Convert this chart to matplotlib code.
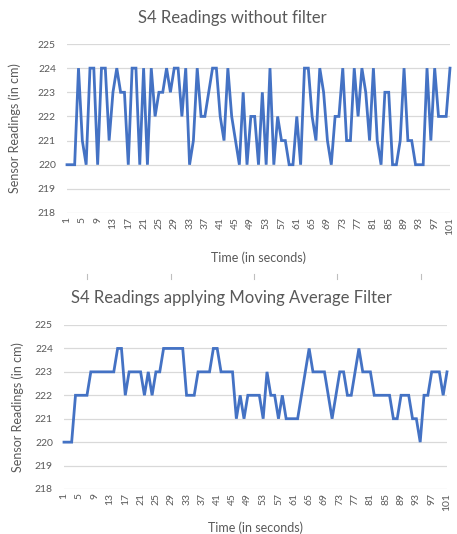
import numpy as np
import matplotlib
matplotlib.use("Agg")
import matplotlib.pyplot as plt
from matplotlib.lines import Line2D

# data
time_s = list(range(1, 102))
raw = [220, 220, 220, 224, 221, 220, 224, 224, 220, 224,
       224, 221, 223, 224, 223, 223, 220, 224, 224, 220,
       224, 220, 224, 222, 223, 223, 224, 223, 224, 224,
       222, 224, 220, 221, 224, 222, 222, 223, 224, 224,
       222, 221, 224, 222, 221, 220, 223, 220, 222, 222,
       220, 223, 220, 224, 220, 222, 221, 221, 220, 220,
       222, 220, 224, 224, 222, 221, 224, 223, 221, 220,
       222, 222, 224, 221, 221, 224, 222, 224, 223, 221,
       224, 221, 220, 223, 223, 220, 220, 221, 224, 221,
       221, 220, 220, 220, 224, 221, 224, 222, 222, 222, 224]
filtered = [220, 220, 220, 222, 222, 222, 222, 223, 223, 223,
            223, 223, 223, 223, 224, 224, 222, 223, 223, 223,
            223, 222, 223, 222, 223, 223, 224, 224, 224, 224,
            224, 224, 222, 222, 222, 223, 223, 223, 223, 224,
            224, 223, 223, 223, 223, 221, 222, 221, 222, 222,
            222, 222, 221, 223, 222, 222, 221, 222, 221, 221,
            221, 221, 222, 223, 224, 223, 223, 223, 223, 222,
            221, 222, 223, 223, 222, 222, 223, 224, 223, 223,
            223, 222, 222, 222, 222, 222, 221, 221, 222, 222,
            222, 221, 221, 220, 222, 222, 223, 223, 223, 222, 223]
x_ticks = list(range(1, 102, 4))
y_ticks = list(range(218, 226))

titles = ["S4 Readings without filter", "S4 Readings applying Moving Average Filter"]

plt.rcParams['font.family'] = ['Lato', 'DejaVu Sans']
txt = '#595959'
blue = '#4472C4'
grid = '#D9D9D9'

W, H = 457, 534
fig = plt.figure(figsize=(W / 100, H / 100), dpi=100)
ax1 = fig.add_axes([67 / W, 1 - 213 / H, 383 / W, 169 / H])
ax2 = fig.add_axes([64 / W, 1 - 489 / H, 383 / W, 164 / H])

setup = [(ax1, raw, titles[0], (232, 18), (-0.12, -0.23)),
         (ax2, filtered, titles[1], (231, 298), (-0.105, -0.20))]

for ax, ys, title, tpos, lab in setup:
    ax.plot(time_s, ys, color=blue, lw=2.0, solid_joinstyle='miter', clip_on=False)
    ax.set_xlim(1, 101)
    ax.set_ylim(218, 225)
    ax.set_yticks(y_ticks)
    ax.set_xticks(x_ticks)
    ax.set_xticklabels([str(t) for t in x_ticks], rotation=90, fontsize=7.5, color=txt)
    ax.set_yticklabels([str(t) for t in y_ticks], fontsize=7.5, color=txt)
    ax.tick_params(axis='y', length=0, pad=8)
    ax.tick_params(axis='x', length=0, pad=3)
    ax.grid(axis='y', color=grid, lw=0.9)
    ax.set_axisbelow(True)
    for s in ax.spines.values():
        s.set_visible(False)
    ax.set_xlabel("Time (in seconds)", fontsize=9, color=txt)
    ax.set_ylabel("Sensor Readings (in cm)", fontsize=9, color=txt)
    ax.yaxis.set_label_coords(lab[0], 0.5)
    ax.xaxis.set_label_coords(0.5, lab[1])
    fig.text(tpos[0] / W, 1 - tpos[1] / H, title, fontsize=12, color=txt,
             ha='center', va='center')

# little tick marks left between the two chart boxes
for xp in [87, 171, 254, 337, 421]:
    fig.add_artist(Line2D([xp / W, xp / W], [1 - 274 / H, 1 - 279 / H],
                          color='#BFBFBF', lw=0.8))

fig.savefig("out.png", dpi=100, facecolor='white')
